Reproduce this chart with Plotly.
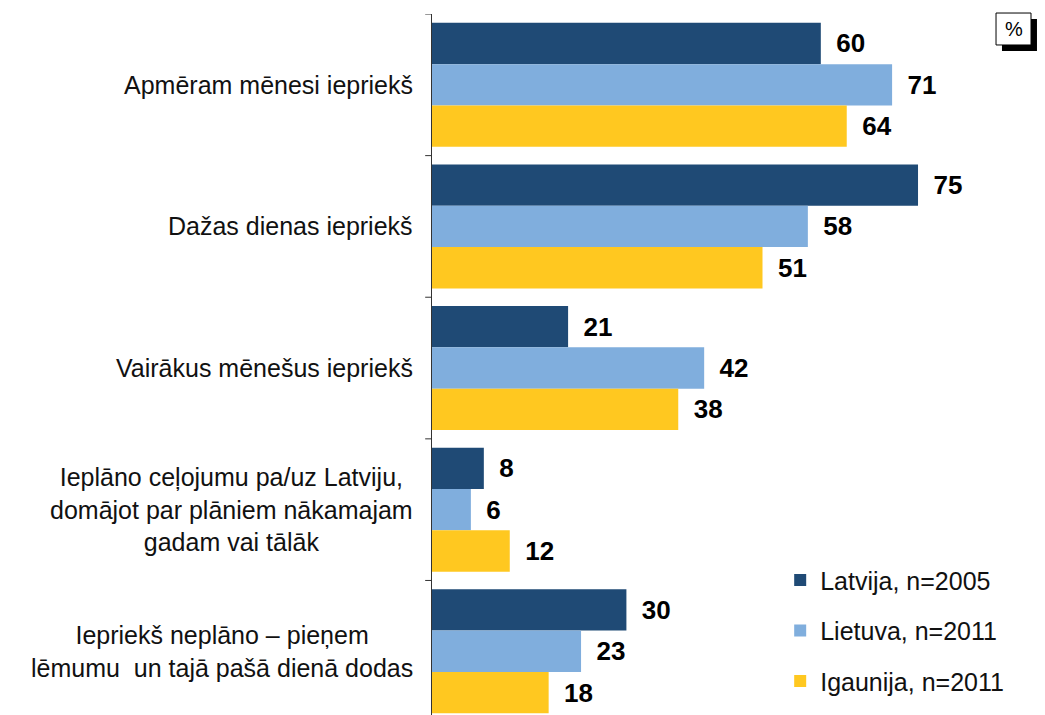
import plotly.graph_objects as go

categories = [
    "Apmēram mēnesi iepriekš",
    "Dažas dienas iepriekš",
    "Vairākus mēnešus iepriekš",
    "Ieplāno ceļojumu pa/uz Latviju,<br>domājot par plāniem nākamajam<br>gadam vai tālāk",
    "Iepriekš neplāno – pieņem<br>lēmumu  un tajā pašā dienā dodas",
]
latvija = [60, 75, 21, 8, 30]
lietuva = [71, 58, 42, 6, 23]
igaunija = [64, 51, 38, 12, 18]
series_names = ["Latvija, n=2005", "Lietuva, n=2011", "Igaunija, n=2011"]
colors = ["#1F4A75", "#80AEDD", "#FFC820"]

FONT = "Liberation Sans, Arial, sans-serif"

fig = go.Figure()
for name, vals, col in zip(series_names, [latvija, lietuva, igaunija], colors):
    fig.add_trace(go.Bar(
        y=list(range(len(categories))), x=vals, name=name, orientation="h",
        marker=dict(color=col, line=dict(width=0)),
        text=vals, texttemplate="\u00a0\u2009%{x}", textposition="outside",
        textfont=dict(family=FONT, size=26, color="black", weight="bold"),
        constraintext="none", cliponaxis=False, legendgroup=name,
    ))

# category labels, centred block right-aligned against the axis
for i, c in enumerate(categories):
    fig.add_annotation(text=c, x=-0.03, xref="paper", y=i, yref="y",
                       xanchor="right", yanchor="middle", align="center",
                       showarrow=False, font=dict(family=FONT, size=25, color="#111"))

# "%" box with shadow
fig.add_shape(type="rect", xref="paper", yref="paper", x0=1.0035, x1=1.0651, y0=0.9472, y1=0.9929,
              fillcolor="black", line=dict(width=0), layer="above")
fig.add_shape(type="rect", xref="paper", yref="paper", x0=0.993, x1=1.0546, y0=0.9558, y1=1.0014,
              fillcolor="white", line=dict(color="black", width=1), layer="above")
fig.add_annotation(text="%", x=1.0238, y=0.9786, xref="paper", yref="paper", showarrow=False,
                   xanchor="center", yanchor="middle",
                   font=dict(family=FONT, size=20, color="black"))

# page body adds 8px on top/left, so the figure is kept 8px smaller
fig.update_layout(
    width=1037, height=707,
    margin=dict(l=424, r=45, t=6, b=0),
    paper_bgcolor="white", plot_bgcolor="white",
    barmode="group", bargap=0.124, bargroupgap=0,
    font=dict(family=FONT, color="#111"),
    legend=dict(x=0.613, y=0.225, xanchor="left", yanchor="top",
                traceorder="grouped", tracegroupgap=15,
                font=dict(family=FONT, size=25, color="#111"),
                itemwidth=30, bgcolor="rgba(0,0,0,0)"),
    xaxis=dict(range=[0, 87.65], visible=False, showgrid=False),
    yaxis=dict(range=[4.45, -0.5], tickmode="array", tickvals=list(range(len(categories))),
               ticktext=[""] * len(categories), showgrid=False, zeroline=False,
               showline=True, linecolor="#333", linewidth=1, ticks=""),
)

# tick marks at group boundaries
for b in [i - 0.5 for i in range(len(categories) + 1)]:
    fig.add_shape(type="line", xref="paper", yref="y", x0=-0.012, x1=0, y0=b, y1=b,
                  line=dict(color="#333", width=1))

fig.write_html("out.html")
